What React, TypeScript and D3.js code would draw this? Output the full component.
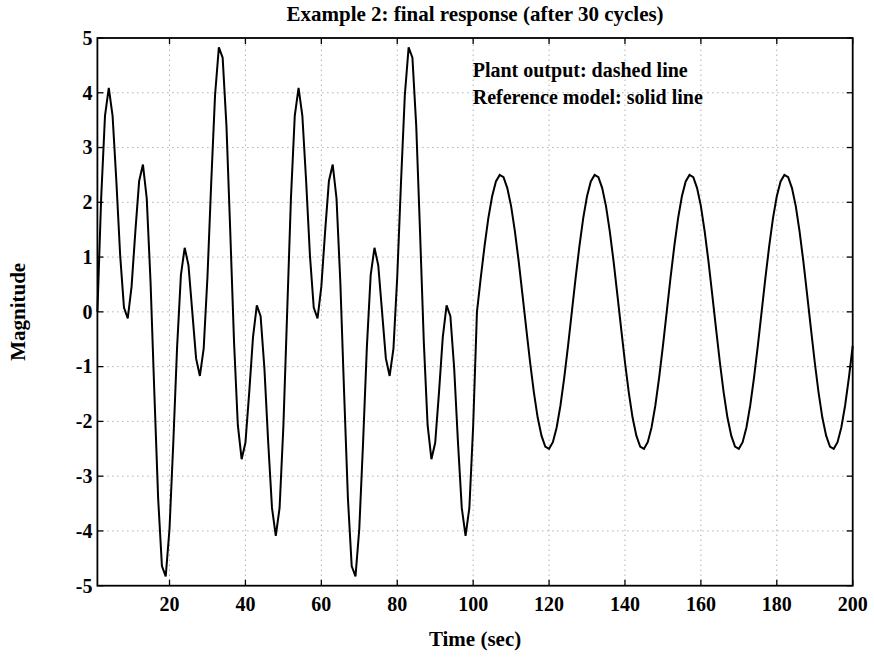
import React from 'react';
import * as d3 from 'd3';

const titleText = 'Example 2: final response (after 30 cycles)';
const xLabelText = 'Time (sec)';
const yLabelText = 'Magnitude';
const noteLines = ['Plant output: dashed line', 'Reference model: solid line'];

const xTicks = [20, 40, 60, 80, 100, 120, 140, 160, 180, 200];
const yTicks = [-5, -4, -3, -2, -1, 0, 1, 2, 3, 4, 5];
const xDomain = [1, 200];
const yDomain = [-5, 5];
const timeStart = 1;
const timeStep = 1;

// t = 1 .. 100 (two-tone transient part)
const transientPart = [
  0, 2.09, 3.58, 4.09, 3.58, 2.38, 1.03, 0.08, -0.12, 0.46,
  1.47, 2.39, 2.69, 2.07, 0.55, -1.47, -3.4, -4.64, -4.83, -3.96,
  -2.38, -0.64, 0.67, 1.17, 0.85, 0, -0.85, -1.17, -0.67, 0.64,
  2.38, 3.96, 4.83, 4.64, 3.4, 1.47, -0.55, -2.07, -2.69, -2.39,
  -1.47, -0.46, 0.12, -0.08, -1.03, -2.38, -3.58, -4.09, -3.58, -2.09,
  0, 2.09, 3.58, 4.09, 3.58, 2.38, 1.03, 0.08, -0.12, 0.46,
  1.47, 2.39, 2.69, 2.07, 0.55, -1.47, -3.4, -4.64, -4.83, -3.96,
  -2.38, -0.64, 0.67, 1.17, 0.85, 0, -0.85, -1.17, -0.67, 0.64,
  2.38, 3.96, 4.83, 4.64, 3.4, 1.47, -0.55, -2.07, -2.69, -2.39,
  -1.47, -0.46, 0.12, -0.08, -1.03, -2.38, -3.58, -4.09, -3.58, -2.09,
];

// t = 101 .. 200 (single sinusoid part)
const steadyPart = [
  0, 0.62, 1.2, 1.71, 2.11, 2.38, 2.5, 2.46, 2.26, 1.93,
  1.47, 0.92, 0.31, -0.31, -0.92, -1.47, -1.93, -2.26, -2.46, -2.5,
  -2.38, -2.11, -1.71, -1.2, -0.62,
  0, 0.62, 1.2, 1.71, 2.11, 2.38, 2.5, 2.46, 2.26, 1.93,
  1.47, 0.92, 0.31, -0.31, -0.92, -1.47, -1.93, -2.26, -2.46, -2.5,
  -2.38, -2.11, -1.71, -1.2, -0.62,
  0, 0.62, 1.2, 1.71, 2.11, 2.38, 2.5, 2.46, 2.26, 1.93,
  1.47, 0.92, 0.31, -0.31, -0.92, -1.47, -1.93, -2.26, -2.46, -2.5,
  -2.38, -2.11, -1.71, -1.2, -0.62,
  0, 0.62, 1.2, 1.71, 2.11, 2.38, 2.5, 2.46, 2.26, 1.93,
  1.47, 0.92, 0.31, -0.31, -0.92, -1.47, -1.93, -2.26, -2.46, -2.5,
  -2.38, -2.11, -1.71, -1.2, -0.62,
];

const W = 874;
const H = 666;
const M = { left: 97.4, right: 21.3, top: 38, bottom: 80.3 };
const FONT = "'Liberation Serif', 'Times New Roman', Times, serif";

export default function App() {
  const values = transientPart.concat(steadyPart);
  const data = values.map((v, i) => ({ t: timeStart + i * timeStep, v }));

  const x = d3.scaleLinear().domain(xDomain).range([M.left, W - M.right]);
  const y = d3.scaleLinear().domain(yDomain).range([H - M.bottom, M.top]);

  const line = d3
    .line<{ t: number; v: number }>()
    .x((d) => x(d.t))
    .y((d) => y(d.v))
    .curve(d3.curveLinear);

  const x0 = x.range()[0];
  const x1 = x.range()[1];
  const y0 = y.range()[0];
  const y1 = y.range()[1];
  const tickLen = 6;

  return (
    <svg
      width={W}
      height={H}
      style={{ position: 'absolute', left: 0, top: 0, background: '#fff' }}
      fontFamily={FONT}
    >
      <rect x={0} y={0} width={W} height={H} fill="#fff" />
      {/* grid */}
      <g stroke="#8a8a8a" strokeWidth={1} strokeDasharray="1,4">
        {xTicks
          .filter((t) => t > xDomain[0] && t < xDomain[1])
          .map((t) => (
            <line key={'gx' + t} x1={x(t)} x2={x(t)} y1={y0} y2={y1} />
          ))}
        {yTicks
          .filter((t) => t > yDomain[0] && t < yDomain[1])
          .map((t) => (
            <line key={'gy' + t} x1={x0} x2={x1} y1={y(t)} y2={y(t)} />
          ))}
      </g>
      {/* ticks, inward on all sides */}
      <g stroke="#000" strokeWidth={1.3}>
        {xTicks.map((t) => (
          <g key={'tx' + t}>
            <line x1={x(t)} x2={x(t)} y1={y0} y2={y0 - tickLen} />
            <line x1={x(t)} x2={x(t)} y1={y1} y2={y1 + tickLen} />
          </g>
        ))}
        {yTicks.map((t) => (
          <g key={'ty' + t}>
            <line x1={x0} x2={x0 + tickLen} y1={y(t)} y2={y(t)} />
            <line x1={x1} x2={x1 - tickLen} y1={y(t)} y2={y(t)} />
          </g>
        ))}
      </g>
      {/* data line */}
      <path d={line(data) || ''} fill="none" stroke="#000" strokeWidth={2} strokeLinejoin="miter" />
      {/* axis box */}
      <rect x={x0} y={y1} width={x1 - x0} height={y0 - y1} fill="none" stroke="#000" strokeWidth={1.8} />
      {/* tick labels */}
      <g fontSize={20} fontWeight="bold" fill="#000">
        {xTicks.map((t) => (
          <text key={'lx' + t} x={x(t)} y={y0 + 25.5} textAnchor="middle">
            {t}
          </text>
        ))}
        {yTicks.map((t) => (
          <text key={'ly' + t} x={x0 - 5} y={y(t)} dy="0.34em" textAnchor="end">
            {t}
          </text>
        ))}
      </g>
      {/* title and axis labels */}
      <text x={(x0 + x1) / 2} y={20.5} textAnchor="middle" fontSize={21} fontWeight="bold">
        {titleText}
      </text>
      <text x={(x0 + x1) / 2} y={646} textAnchor="middle" fontSize={21} fontWeight="bold">
        {xLabelText}
      </text>
      <text
        transform={`translate(25, ${(y0 + y1) / 2}) rotate(-90)`}
        textAnchor="middle"
        fontSize={21}
        fontWeight="bold"
      >
        {yLabelText}
      </text>
      {/* annotations */}
      {noteLines.map((s, i) => (
        <text key={'n' + i} x={472.7} y={76.7 + i * 27.4} fontSize={20} fontWeight="bold" fill="#000">
          {s}
        </text>
      ))}
    </svg>
  );
}
